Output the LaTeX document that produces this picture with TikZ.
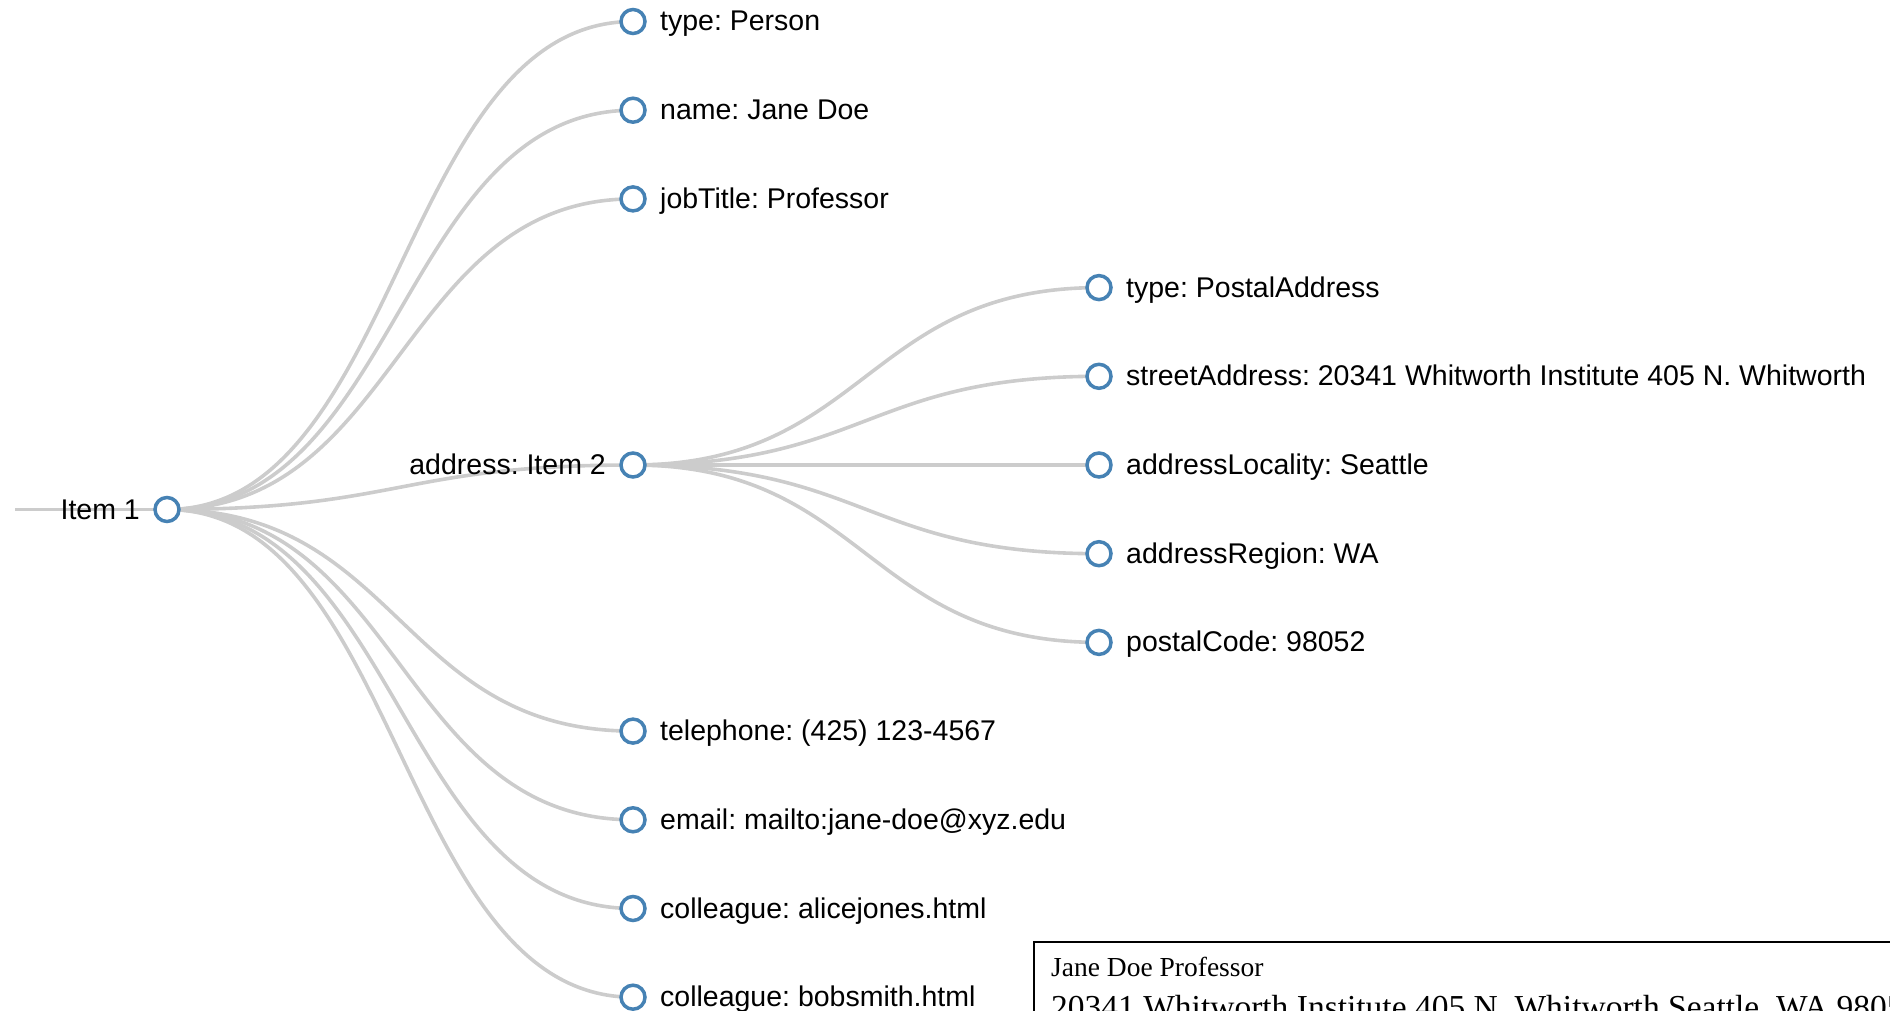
\documentclass[tikz,border=0pt]{standalone}
\usepackage{fontspec}
\setmainfont{Liberation Sans}
\newfontfamily\serifface{Liberation Serif}
\usetikzlibrary{calc,backgrounds}
\definecolor{steel}{RGB}{70,130,180}
\definecolor{linkgray}{RGB}{204,204,204}
\frenchspacing
\begin{document}
\frenchspacing
\begin{tikzpicture}[x=1pt,y=-1pt,
  dot/.style={circle, draw=steel, fill=white, line width=3.5pt, minimum size=24pt, inner sep=0pt},
  link/.style={draw=linkgray, line width=3.6pt},
  diag/.style={to path={let \p1=(\tikztostart), \p2=(\tikztotarget) in .. controls ({0.5*\x1+0.5*\x2},\y1) and ({0.5*\x1+0.5*\x2},\y2) .. (\tikztotarget)}},
  lbl/.style={font=\fontsize{28.5}{34}\selectfont, inner sep=0pt, text=black},
  lblR/.style={lbl, anchor=base west},
  lblL/.style={lbl, anchor=base east},
  boxtxt/.style={font=\serifface\fontsize{27.5}{32}\selectfont, inner sep=0pt, text=black, anchor=base west},
  boxtxtb/.style={font=\serifface\fontsize{33.5}{38}\selectfont, inner sep=0pt, text=black, anchor=base west},
]
\useasboundingbox (0,0) rectangle (1890,1011);
\clip (0,0) rectangle (1890,1011);

% nodes
\node[dot] (r)  at (167,509.5) {};
\node[dot] (a1) at (633,21.5) {};
\node[dot] (a2) at (633,110.2) {};
\node[dot] (a3) at (633,198.9) {};
\node[dot] (ad) at (633,465) {};
\node[dot] (a5) at (633,731.1) {};
\node[dot] (a6) at (633,819.8) {};
\node[dot] (a7) at (633,908.5) {};
\node[dot] (a8) at (633,997.2) {};
\node[dot] (b1) at (1099,287.6) {};
\node[dot] (b2) at (1099,376.3) {};
\node[dot] (b3) at (1099,465) {};
\node[dot] (b4) at (1099,553.7) {};
\node[dot] (b5) at (1099,642.4) {};
\coordinate (lft) at (15,509.5);

% links
\begin{scope}[on background layer]
\draw[link] (lft) -- (r.center);
\foreach \t in {a1,a2,a3,ad,a5,a6,a7,a8}
  \draw[link] (r.center) to[diag] (\t.center);
\foreach \t in {b1,b2,b3,b4,b5}
  \draw[link] (ad.center) to[diag] (\t.center);
\end{scope}

% labels
\node[lblL] (lr)  at ($(r)+(-27,9.5)$)  {Item 1};
\node[lblR] (la1) at ($(a1)+(27,9.5)$) {type: Person};
\node[lblR] (la2) at ($(a2)+(27,9.5)$) {name: Jane Doe};
\node[lblR] (la3) at ($(a3)+(27,9.5)$) {jobTitle: Professor};
\node[lblL] (lad) at ($(ad)+(-27,9.5)$) {address: Item 2};
\node[lblR] (la5) at ($(a5)+(27,9.5)$) {telephone: (425) 123-4567};
\node[lblR] (la6) at ($(a6)+(27,9.5)$) {email: mailto:jane-doe@xyz.edu};
\node[lblR] (la7) at ($(a7)+(27,9.5)$) {colleague: alicejones.html};
\node[lblR] (la8) at ($(a8)+(27,9.5)$) {colleague: bobsmith.html};
\node[lblR] (lb1) at ($(b1)+(27,9.5)$) {type: PostalAddress};
\node[lblR] (lb2) at ($(b2)+(27,9.5)$) {streetAddress: 20341 Whitworth Institute 405 N. Whitworth};
\node[lblR] (lb3) at ($(b3)+(27,9.5)$) {addressLocality: Seattle};
\node[lblR] (lb4) at ($(b4)+(27,9.5)$) {addressRegion: WA};
\node[lblR] (lb5) at ($(b5)+(27,9.5)$) {postalCode: 98052};

% info box
\node[draw=black, line width=2pt, fill=white, anchor=north west, minimum width=900pt, minimum height=120pt, inner sep=0pt] (box) at (1033,941) {};
\node[boxtxt] (bt1) at (1051,976) {Jane Doe Professor};
\node[boxtxtb] (bt2) at (1051,1018) {20341 Whitworth Institute 405 N. Whitworth Seattle, WA 98052};
\end{tikzpicture}
\end{document}
